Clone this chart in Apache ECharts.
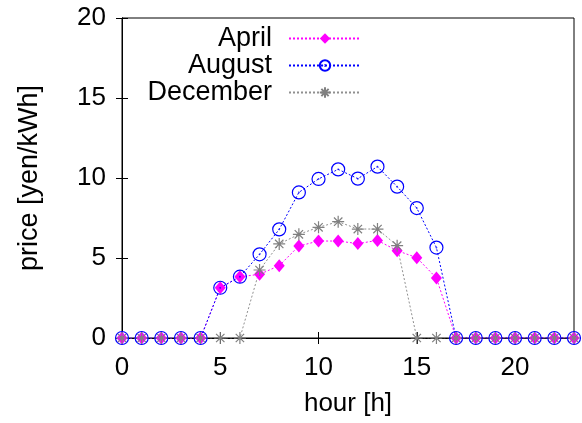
<!DOCTYPE html>
<html>
<head>
<meta charset="utf-8">
<script src="https://cdn.jsdelivr.net/npm/echarts@6/dist/echarts.min.js"></script>
<style>
html,body{margin:0;padding:0;background:#fff;}
#box{width:582px;height:423px;}
</style>
</head>
<body>
<div id="box"></div>
<script>
// hour of day
var hours = [0,1,2,3,4,5,6,7,8,9,10,11,12,13,14,15,16,17,18,19,20,21,22,23];
// price [yen/kWh]
var april    = [0,0,0,0,0,3.14,3.83,3.98,4.52,5.75,6.06,6.06,5.9,6.1,5.46,5.02,3.75,0,0,0,0,0,0,0];
var august   = [0,0,0,0,0,3.14,3.83,5.23,6.79,9.1,9.94,10.54,9.96,10.71,9.46,8.12,5.65,0,0,0,0,0,0,0];
var december = [0,0,0,0,0,0,0,4.25,5.88,6.48,6.92,7.27,6.81,6.81,5.77,0,0,0,0,0,0,0,0,0];
var names = ['April','August','December'];

var font = 'Liberation Sans, Arial, sans-serif';
var circlePath = 'path://M10,0 A10,10 0 1,1 -10,0 A10,10 0 1,1 10,0 Z M0.4,0 A0.4,0.4 0 1,1 -0.4,0 A0.4,0.4 0 1,1 0.4,0 Z';
var starPath = 'path://M0,-10 L0,10 M-10,0 L10,0 M-7,-7 L7,7 M-7,7 L7,-7';

function pairs(arr){
	var out = [];
	for(var i = 0; i < hours.length; i++){
		out.push([hours[i], arr[i]]);
	}
	return out;
}

var mychar = echarts.init(document.getElementById('box'));

// one legend per series so the text is right aligned and the keys line up
var legends = [];
for(var i = 0; i < names.length; i++){
	legends.push({
		data: [names[i]],
		right: 215,
		top: 20 + i * 27,
		align: 'right',
		itemWidth: 72,
		itemHeight: 13,
		textStyle: {fontSize: 27, color: '#000', fontFamily: font, padding: [0, 12, 0, 0]}
	});
}

function axisCommon(){
	return {
		type: 'value',
		axisLine: {show: true, lineStyle: {color: '#000', width: 1}},
		axisTick: {show: true, inside: true, length: 6, lineStyle: {color: '#000'}},
		splitLine: {show: false}
	};
}

var xb = axisCommon();
xb.min = 0; xb.max = 23; xb.interval = 5;
xb.name = 'hour [h]';
xb.nameLocation = 'middle';
xb.nameGap = 53;
xb.nameTextStyle = {fontSize: 26, color: '#000', fontFamily: font};
xb.axisLabel = {fontSize: 26, color: '#000', fontFamily: font, margin: 17,
	formatter: function(v){ return v % 5 === 0 ? v : ''; }};

var xt = axisCommon();
xt.min = 0; xt.max = 23; xt.interval = 5;
xt.position = 'top';
xt.axisLabel = {show: false};

var yl = axisCommon();
yl.min = 0; yl.max = 20; yl.interval = 5;
yl.name = 'price [yen/kWh]';
yl.nameLocation = 'middle';
yl.nameGap = 79;
yl.nameTextStyle = {fontSize: 27, color: '#000', fontFamily: font};
yl.axisLabel = {fontSize: 26, color: '#000', fontFamily: font, margin: 16};

var yr = axisCommon();
yr.min = 0; yr.max = 20; yr.interval = 5;
yr.position = 'right';
yr.axisLabel = {show: false};

var option = {
	animation: false,
	backgroundColor: '#fff',
	grid: {left: 122, right: 8, top: 18, bottom: 85, show: true, borderColor: '#000', borderWidth: 1, backgroundColor: 'transparent'},
	legend: legends,
	xAxis: [xb, xt],
	yAxis: [yl, yr],
	series: [{
		name: 'April',
		type: 'line',
		data: pairs(april),
		symbol: 'diamond',
		symbolSize: [11, 13],
		itemStyle: {color: '#ff00ff'},
		lineStyle: {color: '#ff00ff', width: 1, type: [2, 2]}
	}, {
		name: 'August',
		type: 'line',
		data: pairs(august),
		symbol: circlePath,
		symbolSize: 13,
		itemStyle: {color: 'none', borderColor: '#0000ff', borderWidth: 1.2},
		lineStyle: {color: '#0000ff', width: 1, type: [2, 2]}
	}, {
		name: 'December',
		type: 'line',
		data: pairs(december),
		symbol: starPath,
		symbolSize: 12,
		itemStyle: {color: 'none', borderColor: '#808080', borderWidth: 1.2},
		lineStyle: {color: '#909090', width: 1, type: [2, 2]}
	}]
};
mychar.setOption(option);
</script>
</body>
</html>
